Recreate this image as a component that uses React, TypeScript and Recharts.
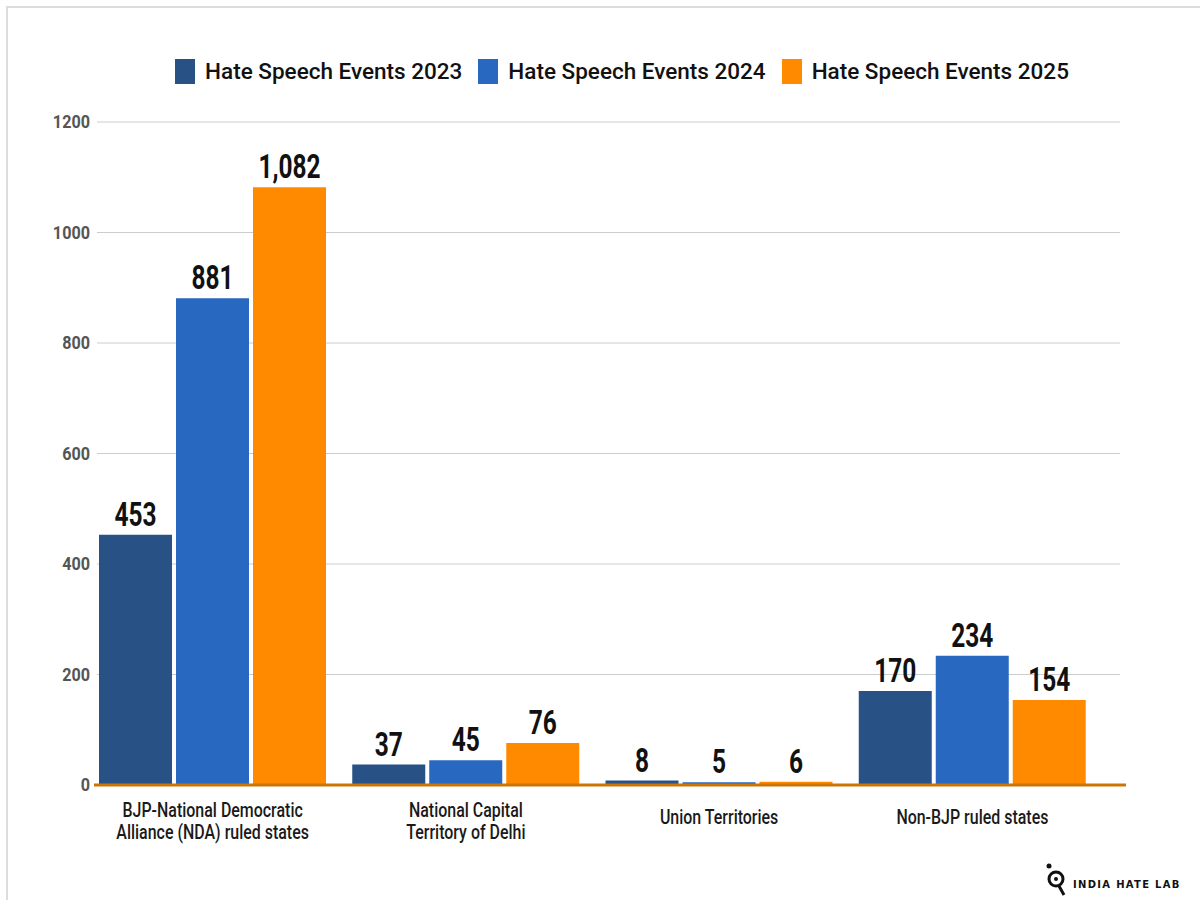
import React from "react";
import {
  BarChart, Bar, XAxis, YAxis, CartesianGrid, Legend, LabelList, ReferenceLine,
} from "recharts";

const categories = [
  "BJP-National Democratic\nAlliance (NDA) ruled states",
  "National Capital\nTerritory of Delhi",
  "Union Territories",
  "Non-BJP ruled states",
];
const events2023 = [453, 37, 8, 170];
const events2024 = [881, 45, 5, 234];
const events2025 = [1082, 76, 6, 154];
const yTicks = [0, 200, 400, 600, 800, 1000, 1200];

const SERIES = [
  { key: "y2023", name: "Hate Speech Events 2023", color: "#285185" },
  { key: "y2024", name: "Hate Speech Events 2024", color: "#2868c1" },
  { key: "y2025", name: "Hate Speech Events 2025", color: "#ff8a00" },
];

const FONT = "Roboto, 'DejaVu Sans', sans-serif";

const data = categories.map((c, i) => ({
  category: c,
  y2023: events2023[i],
  y2024: events2024[i],
  y2025: events2025[i],
}));

// the original uses a condensed face; squeeze Roboto horizontally to get close
function CategoryTick(props: any) {
  const { x, payload } = props;
  const lines = String(payload.value).split("\n");
  const first = 824 - (lines.length - 1) * 7;
  return (
    <g transform={`translate(${x},0) scale(0.76,1)`}>
      <text x={0} y={0} textAnchor="middle" fill="#1a1a1a" fontSize={21} fontWeight={500} fontFamily={FONT}>
        {lines.map((l, i) => (
          <tspan key={i} x={0} y={first + i * 22}>{l}</tspan>
        ))}
      </text>
    </g>
  );
}

function ValueTick(props: any) {
  const { x, y, payload } = props;
  return (
    <g transform={`translate(${x + 12},${y}) scale(0.9,1)`}>
      <text x={0} y={0} dy={6} textAnchor="end" fill="#555" fontSize={18} fontWeight={700} fontFamily={FONT}>
        {payload.value}
      </text>
    </g>
  );
}

function BarValue(props: any) {
  const { x, y, width, value } = props;
  return (
    <g transform={`translate(${x + width / 2},${y - 9}) scale(0.72,1)`}>
      <text x={0} y={0} textAnchor="middle" fill="#111" fontSize={34} fontWeight={700} fontFamily={FONT}>
        {Number(value).toLocaleString("en-US")}
      </text>
    </g>
  );
}

function LegendContent() {
  return (
    <div style={{ display: "flex", justifyContent: "center", alignItems: "center", fontFamily: FONT }}>
      {SERIES.map((s) => (
        <div key={s.key} style={{ display: "flex", alignItems: "center", margin: "0 8px" }}>
          <span style={{ display: "inline-block", width: 20, height: 25, background: s.color, marginRight: 10 }} />
          <span style={{ fontSize: 22.5, fontWeight: 500, color: "#111" }}>{s.name}</span>
        </div>
      ))}
    </div>
  );
}

export default function App() {
  return (
    <div style={{ position: "absolute", left: 0, top: 0, width: 1200, height: 900, background: "#fff" }}>
      <div style={{ position: "absolute", left: 6, top: 6, right: 0, bottom: 0, borderTop: "2px solid #dcdcdc", borderLeft: "2px solid #dcdcdc" }} />
      <BarChart
        width={1200}
        height={900}
        data={data}
        margin={{ top: 96, right: 101, bottom: 55, left: 36 }}
        barSize={73}
        barGap={4}
        style={{ position: "absolute", left: 0, top: 0 }}
      >
        <CartesianGrid vertical={false} stroke="#cccccc" x={97} width={1023} />
        <XAxis
          dataKey="category"
          height={60}
          axisLine={false}
          tickLine={false}
          interval={0}
          tick={<CategoryTick />}
        />
        <YAxis
          width={50}
          domain={[0, 1200]}
          ticks={yTicks}
          axisLine={false}
          tickLine={false}
          tick={<ValueTick />}
        />
        <Legend
          verticalAlign="top"
          height={0}
          content={<LegendContent />}
          wrapperStyle={{ top: 58, left: 22, width: 1200 }}
        />
        {SERIES.map((s) => (
          <Bar key={s.key} dataKey={s.key} name={s.name} fill={s.color} isAnimationActive={false}>
            <LabelList dataKey={s.key} content={<BarValue />} />
          </Bar>
        ))}
        <ReferenceLine
          y={0}
          stroke="#cc7406"
          strokeWidth={3}
          shape={(p: any) => (
            <line x1={p.x1 + 8} x2={p.x2 + 27} y1={p.y1} y2={p.y2} stroke="#cc7406" strokeWidth={3} />
          )}
        />
      </BarChart>
      <svg width={160} height={40} style={{ position: "absolute", left: 1040, top: 862 }}>
        <circle cx={9} cy={4} r={2.5} fill="#111" />
        <circle cx={16} cy={17} r={7} fill="none" stroke="#111" strokeWidth={3} />
        <circle cx={16} cy={17} r={2} fill="#111" />
        <line x1={19} y1={24} x2={24} y2={33} stroke="#111" strokeWidth={3} />
        <text x={33} y={26} fontSize={10} fontWeight={700} letterSpacing={1.3} fill="#111" fontFamily="'DejaVu Sans', sans-serif">
          INDIA HATE LAB
        </text>
      </svg>
    </div>
  );
}
